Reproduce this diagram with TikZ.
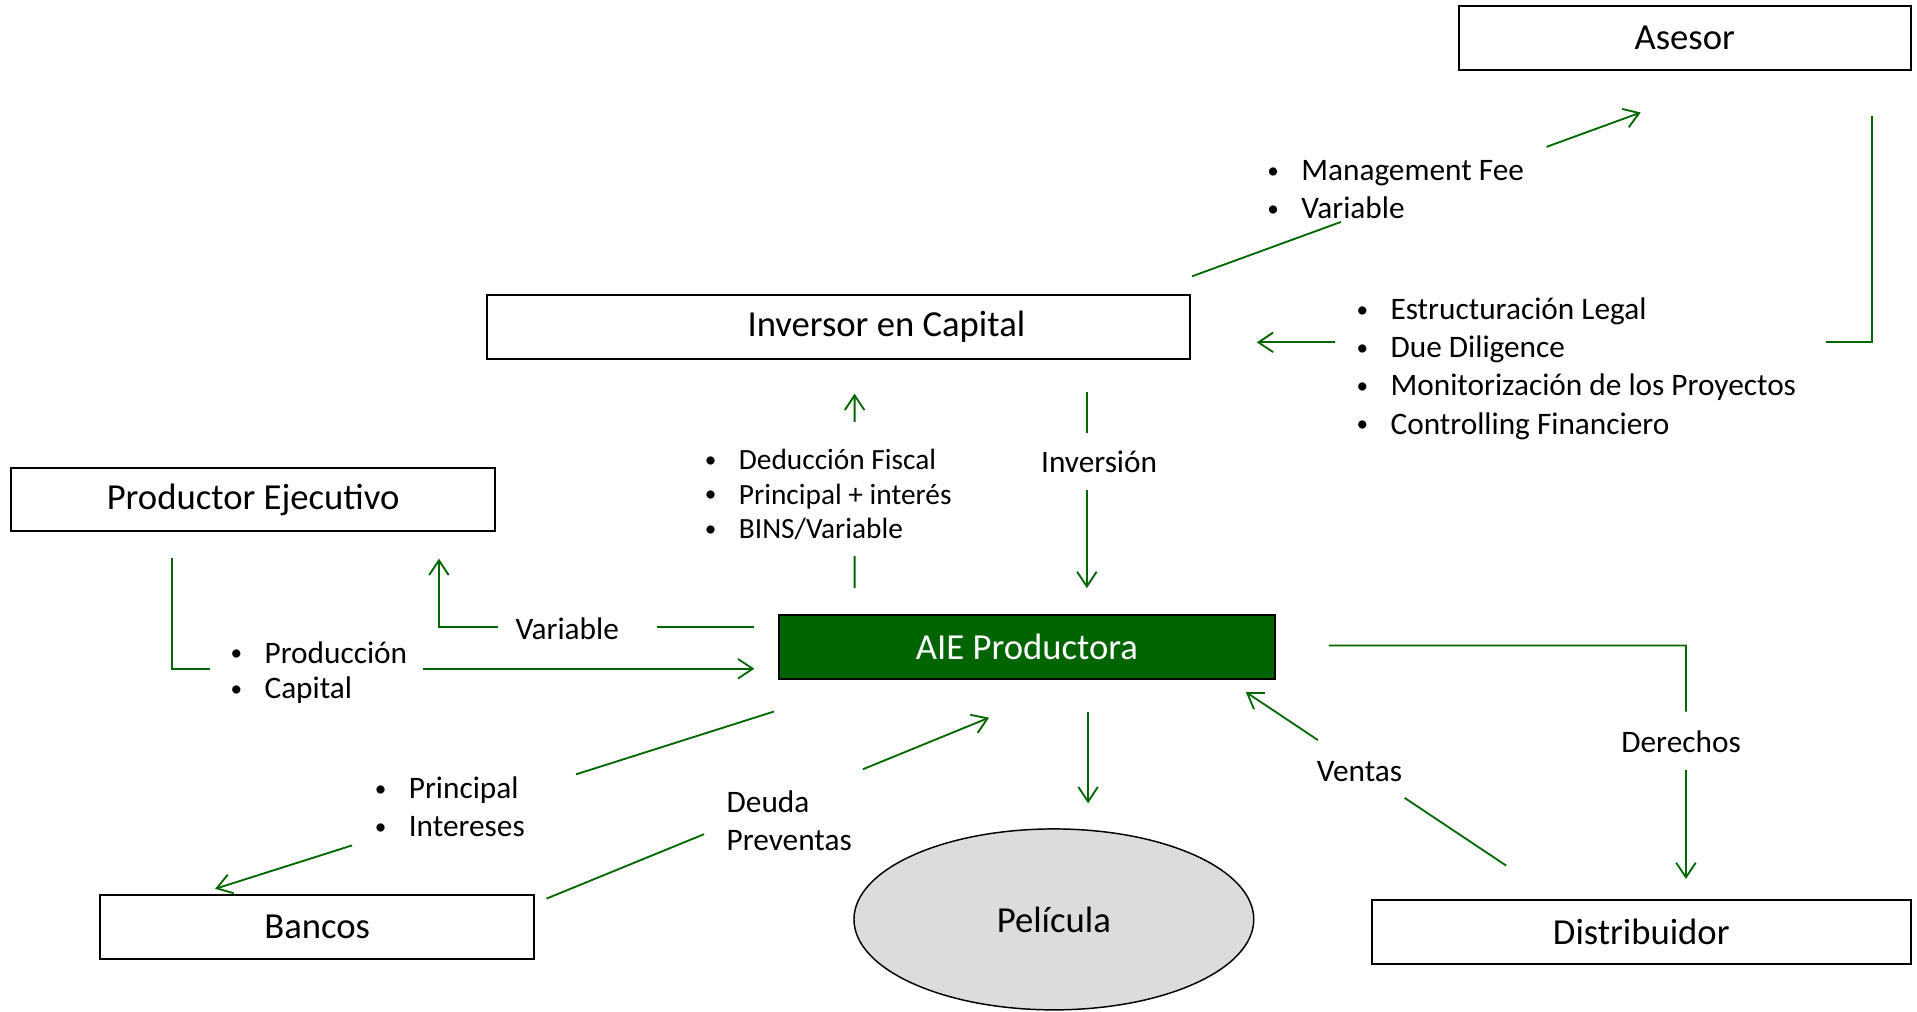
\documentclass[tikz,border=0pt]{standalone}
\usepackage{fontspec}
\setmainfont{Carlito}
\usetikzlibrary{arrows.meta,shapes.geometric,calc}
\definecolor{flowgreen}{RGB}{0,102,0}
\definecolor{aiegreen}{RGB}{0,100,0}
\definecolor{filmgray}{RGB}{220,220,220}
\newcommand\bul{\makebox[14.5pt][l]{\hspace*{0.6pt}\raisebox{0.9pt}{\fontsize{9.5}{9.5}\selectfont\textbullet}}}

\begin{document}
\begin{tikzpicture}
  [x=0.5pt, y=-0.5pt,
   my box/.style={draw=black, line width=0.8pt, minimum height=26pt,
     inner sep=0pt, font=\fontsize{15}{18}\selectfont},
   my flow/.style={draw=flowgreen, line width=0.75pt},
   my arrow/.style={my flow, -{Straight Barb[length=6pt,width=8pt]}},
   my note/.style={inner sep=0pt, align=left,
     font=\fontsize{12.8}{15.6}\selectfont},
   my small note/.style={my note, font=\fontsize{12}{14.25}\selectfont}, ]

  \useasboundingbox (0,0) rectangle (1568,827);

  \node[my box, minimum width=185pt] (asesor) at (1378,31) {Asesor};
  \node[my box, minimum width=287.5pt] (inversor) at (685.5,267.5)
    {\hspace*{39.5pt}\raisebox{-1.2pt}{Inversor en Capital}};
  \node[my box, minimum width=198pt] (productor) at (207,408.5)
    {Productor Ejecutivo};
  \node[my box, minimum width=203pt, fill=aiegreen, text=white] (aie)
    at (840,529) {AIE Productora};
  \node[my box, minimum width=177.5pt] (bancos) at (259.5,758) {Bancos};
  \node[my box, minimum width=220.5pt] (distribuidor) at (1342.5,762.5)
    {Distribuidor};
  \node[ellipse, draw=black, line width=0.6pt, fill=filmgray,
    minimum width=163.5pt, minimum height=74pt, inner sep=0pt,
    font=\fontsize{15}{18}\selectfont] (pelicula) at (862,752) {Película};

  \node[my note, anchor=west] (fee) at (1035,155)
    {\bul Management Fee\\\bul Variable};
  \node[my note, anchor=west] (servicios) at (1108,301.5)
    {\bul Estructuración Legal\\\bul Due Diligence\\
     \bul Monitorización de los Proyectos\\\bul Controlling Financiero};
  \node[my small note, anchor=west] (retorno) at (575,404.5)
    {\bul Deducción Fiscal\\\bul Principal + interés\\\bul BINS/Variable};
  \node[my note] (inversion) at (899,378) {Inversión};
  \node[my note] (variable) at (464,514) {Variable};
  \node[my note, font=\fontsize{12.8}{14.5}\selectfont, anchor=west]
    (produccion) at (187,550) {\bul Producción\\\bul Capital};
  \node[my note, anchor=west] (principal) at (305,660)
    {\bul Principal\\\bul Intereses};
  \node[my note, anchor=west] (deuda) at (594,671) {Deuda\\Preventas};
  \node[my note] (ventas) at (1112,631) {Ventas};
  \node[my note] (derechos) at (1375,607) {Derechos};

  \coordinate (inv fee) at (975,226);
  \coordinate (ase fee) at (1342,92);
  \coordinate (ase top) at (1531,95);
  \coordinate (ase corner) at (1531,280);
  \coordinate (inv serv) at (1028,280);
  \coordinate (aie ded) at (699,481);
  \coordinate (inv ded) at (699,322);
  \coordinate (inv inv) at (889,321);
  \coordinate (aie inv) at (889,481);
  \coordinate (aie var) at (617,513);
  \coordinate (var corner) at (359,513);
  \coordinate (prod var) at (359,457);
  \coordinate (prod cap) at (141,456);
  \coordinate (cap corner) at (141,547);
  \coordinate (aie cap) at (617,547);
  \coordinate (aie ban) at (633,582);
  \coordinate (ban aie) at (176,727);
  \coordinate (ban deu) at (447,735);
  \coordinate (aie deu) at (809,587);
  \coordinate (aie pel) at (890,582);
  \coordinate (pel aie) at (890,657);
  \coordinate (dist ven) at (1232,708);
  \coordinate (aie ven) at (1019,566);
  \coordinate (aie der) at (1087,528);
  \coordinate (der corner) at (1379,528);
  \coordinate (dist der) at (1379,719);

  \draw[my arrow] (inv fee) -- ($(inv fee)!.332!(ase fee)$)
    ($(inv fee)!.79!(ase fee)$) -- (ase fee);

  \draw[my arrow] (ase top) -- (ase corner) -- ($(ase corner)!.074!(inv serv)$)
    ($(ase corner)!.873!(inv serv)$) -- (inv serv);

  \draw[my arrow] (aie ded) -- ($(aie ded)!.164!(inv ded)$)
    ($(aie ded)!.855!(inv ded)$) -- (inv ded);

  \draw[my arrow] (inv inv) -- ($(inv inv)!.206!(aie inv)$)
    ($(inv inv)!.5!(aie inv)$) -- (aie inv);

  \draw[my arrow] (aie var) -- ($(aie var)!.31!(var corner)$)
    ($(aie var)!.814!(var corner)$) -- (var corner) -- (prod var);

  \draw[my arrow] (prod cap) -- (cap corner) -- ($(cap corner)!.065!(aie cap)$)
    ($(cap corner)!.431!(aie cap)$) -- (aie cap);

  \draw[my arrow] (aie ban) -- ($(aie ban)!.354!(ban aie)$)
    ($(aie ban)!.755!(ban aie)$) -- (ban aie);

  \draw[my arrow] (ban deu) -- ($(ban deu)!.356!(aie deu)$)
    ($(ban deu)!.715!(aie deu)$) -- (aie deu);

  \draw[my arrow] (aie pel) -- (pel aie);

  \draw[my arrow] (dist ven) -- ($(dist ven)!.39!(aie ven)$)
    ($(dist ven)!.723!(aie ven)$) -- (aie ven);

  \draw[my arrow] (aie der) -- (der corner) -- ($(der corner)!.283!(dist der)$)
    ($(der corner)!.534!(dist der)$) -- (dist der);

\end{tikzpicture}
\end{document}
